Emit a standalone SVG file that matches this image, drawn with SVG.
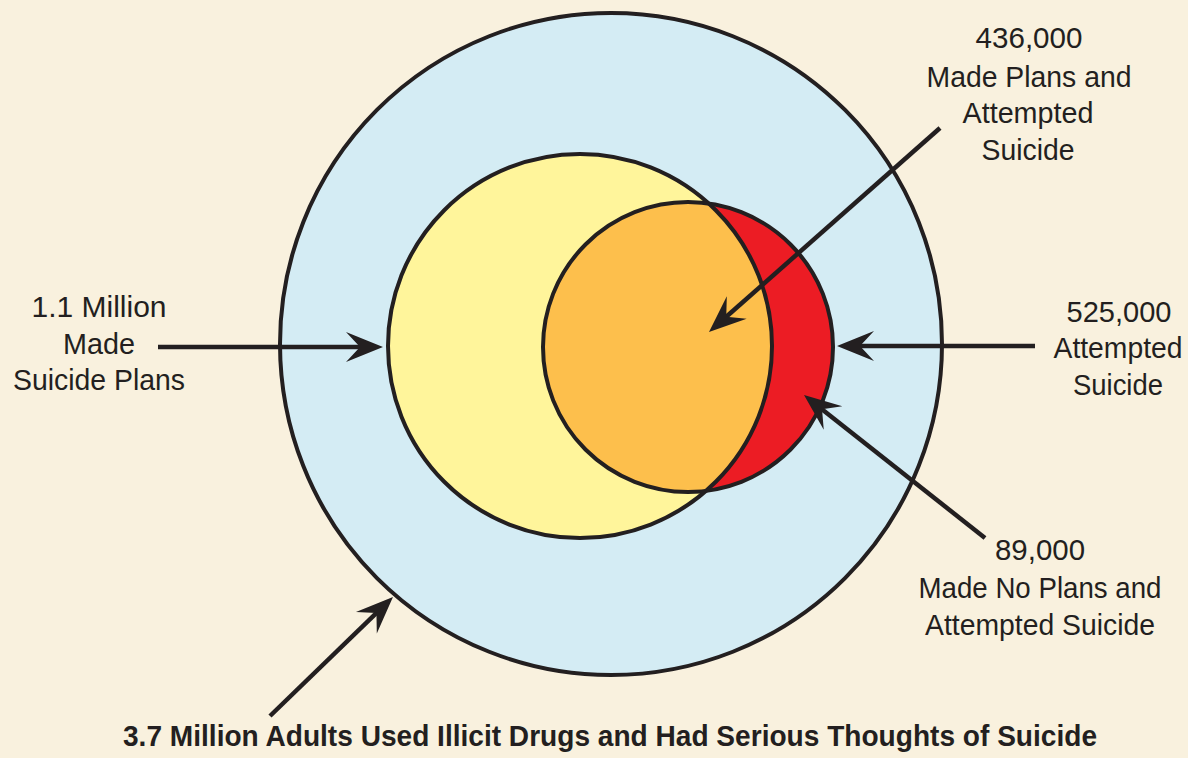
<svg xmlns="http://www.w3.org/2000/svg" width="1188" height="758" viewBox="0 0 1188 758">
<style>
.bg{fill:#f9f1de}
.ln{stroke:#231f20;stroke-width:4;}
.t{font-family:"Liberation Sans",Arial,sans-serif;font-size:30px;fill:#231f20;text-anchor:middle}
.tb{font-family:"Liberation Sans",Arial,sans-serif;font-size:30px;font-weight:bold;fill:#231f20;text-anchor:middle}
.conn{stroke:#231f20;stroke-width:4.5;fill:none;marker-end:url(#ah)}
</style>
<defs>
<marker id="ah" markerUnits="userSpaceOnUse" viewBox="-40 -20 44 40" refX="-20" refY="0" markerWidth="44" markerHeight="40" orient="auto">
<path d="M0,0 L-37,-15 L-23,0 L-37,15 Z" fill="#231f20"/>
</marker>
<clipPath id="yclip"><circle cx="580" cy="346" r="192"/></clipPath>
</defs>
<rect class="bg" x="0" y="0" width="1188" height="758"/>
<g id="outer">
<circle cx="611" cy="344" r="331" fill="#d4ecf4" class="ln"/>
</g>
<g id="plans">
<circle cx="580" cy="346" r="192" fill="#fff59b"/>
</g>
<g id="attempted">
<circle cx="688" cy="347" r="145" fill="#ec1c24"/>
<circle cx="688" cy="347" r="145" fill="#fdbf4c" clip-path="url(#yclip)"/>
</g>
<g id="outlines" fill="none" class="ln">
<circle cx="580" cy="346" r="192" class="ln" fill="none"/>
<circle cx="688" cy="347" r="145" class="ln" fill="none"/>
</g>
<g id="connectors">
<line class="conn" x1="158" y1="347" x2="363" y2="347"/>
<line class="conn" x1="1035" y1="346" x2="857" y2="346"/>
<line class="conn" x1="940" y1="128" x2="724" y2="318.8"/>
<line class="conn" x1="985" y1="538" x2="819.7" y2="407.4"/>
<line class="conn" x1="270" y1="716" x2="378.6" y2="610.9"/>
</g>
<g id="label-plans">
<text class="t" x="99" y="317" textLength="135" lengthAdjust="spacingAndGlyphs">1.1 Million</text>
<text class="t" x="99" y="354" textLength="72" lengthAdjust="spacingAndGlyphs">Made</text>
<text class="t" x="99" y="390" textLength="172" lengthAdjust="spacingAndGlyphs">Suicide Plans</text>
</g>
<g id="label-436">
<text class="t" x="1029" y="48" textLength="107" lengthAdjust="spacingAndGlyphs">436,000</text>
<text class="t" x="1029" y="87" textLength="205" lengthAdjust="spacingAndGlyphs">Made Plans and</text>
<text class="t" x="1028" y="123" textLength="131" lengthAdjust="spacingAndGlyphs">Attempted</text>
<text class="t" x="1028" y="160" textLength="93" lengthAdjust="spacingAndGlyphs">Suicide</text>
</g>
<g id="label-525">
<text class="t" x="1119" y="322" textLength="105" lengthAdjust="spacingAndGlyphs">525,000</text>
<text class="t" x="1118" y="358" textLength="129" lengthAdjust="spacingAndGlyphs">Attempted</text>
<text class="t" x="1118" y="395" textLength="90" lengthAdjust="spacingAndGlyphs">Suicide</text>
</g>
<g id="label-89">
<text class="t" x="1040" y="560" textLength="90" lengthAdjust="spacingAndGlyphs">89,000</text>
<text class="t" x="1040" y="598" textLength="243" lengthAdjust="spacingAndGlyphs">Made No Plans and</text>
<text class="t" x="1040" y="635" textLength="230" lengthAdjust="spacingAndGlyphs">Attempted Suicide</text>
</g>
<g id="label-title">
<text class="tb" x="610" y="746" textLength="974" lengthAdjust="spacingAndGlyphs">3.7 Million Adults Used Illicit Drugs and Had Serious Thoughts of Suicide</text>
</g>
</svg>
